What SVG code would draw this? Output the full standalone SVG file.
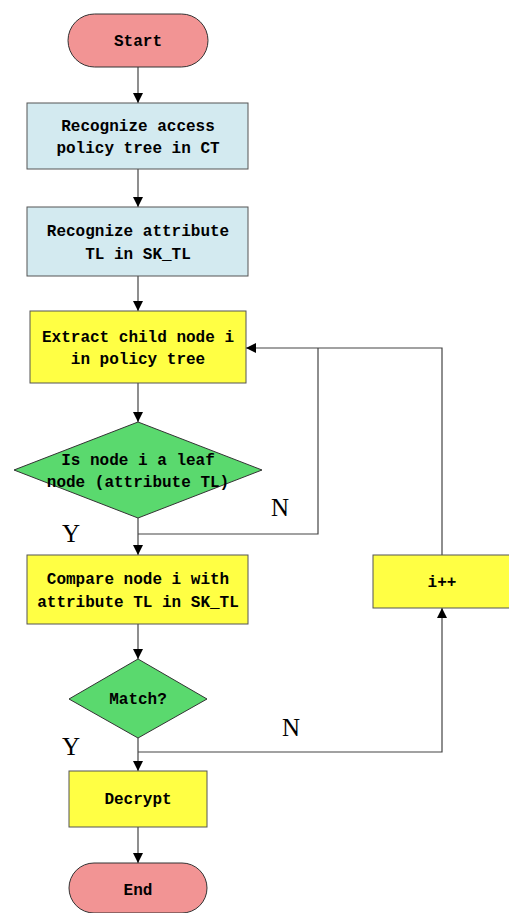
<svg xmlns="http://www.w3.org/2000/svg" width="509" height="913" viewBox="0 0 509 913">
  <style>
    .term { fill: #f29494; stroke: #333; stroke-width: 1; }
    .blue { fill: #d3eaf0; stroke: #555; stroke-width: 1; }
    .yel { fill: #ffff44; stroke: #555; stroke-width: 1; }
    .dec { fill: #5ad96e; stroke: #333; stroke-width: 1; }
    .t { font-family: "Liberation Mono", "DejaVu Sans Mono", monospace; font-size: 16px; font-weight: bold; fill: #000; text-anchor: middle; }
    .lbl { font-family: "Liberation Serif", "DejaVu Serif", serif; font-size: 25px; fill: #000; text-anchor: middle; }
    .ln { fill: none; stroke: #444; stroke-width: 1.2; }
  </style>
  <defs>
    <marker id="arr" markerWidth="10" markerHeight="10" refX="10" refY="5" orient="auto" markerUnits="userSpaceOnUse">
      <path d="M0,0 L10,5 L0,10 z" fill="#000"/>
    </marker>
  </defs>

  <g id="connectors">
    <line class="ln" x1="138" y1="67" x2="138" y2="103" marker-end="url(#arr)"/>
    <line class="ln" x1="138" y1="169" x2="138" y2="207" marker-end="url(#arr)"/>
    <line class="ln" x1="138" y1="276" x2="138" y2="311" marker-end="url(#arr)"/>
    <line class="ln" x1="138" y1="383" x2="138" y2="422" marker-end="url(#arr)"/>
    <line class="ln" x1="138" y1="518" x2="138" y2="555" marker-end="url(#arr)"/>
    <polyline class="ln" points="138,534 318,534 318,348"/>
    <polyline class="ln" points="442,555 442,348 246,348" marker-end="url(#arr)"/>
    <line class="ln" x1="138" y1="624" x2="138" y2="659" marker-end="url(#arr)"/>
    <line class="ln" x1="138" y1="738" x2="138" y2="771" marker-end="url(#arr)"/>
    <polyline class="ln" points="138,752 442,752 442,608" marker-end="url(#arr)"/>
    <line class="ln" x1="138" y1="827" x2="138" y2="863" marker-end="url(#arr)"/>
    <text class="lbl" x="280" y="516">N</text>
    <text class="lbl" x="71" y="542">Y</text>
    <text class="lbl" x="291" y="736">N</text>
    <text class="lbl" x="71" y="755">Y</text>
  </g>

  <g id="start">
    <rect class="term" x="68" y="14" width="140" height="53" rx="26.5"/>
    <text class="t" x="138" y="46">Start</text>
  </g>

  <g id="recognize-tree">
    <rect class="blue" x="27" y="103" width="221" height="66"/>
    <text class="t" x="138" y="131">Recognize access</text>
    <text class="t" x="138" y="153">policy tree in CT</text>
  </g>

  <g id="recognize-attr">
    <rect class="blue" x="27" y="207" width="221" height="69"/>
    <text class="t" x="138" y="236">Recognize attribute</text>
    <text class="t" x="138" y="259">TL in SK_TL</text>
  </g>

  <g id="extract">
    <rect class="yel" x="30" y="311" width="216" height="72"/>
    <text class="t" x="138" y="342">Extract child node i</text>
    <text class="t" x="138" y="364">in policy tree</text>
  </g>

  <g id="is-leaf">
    <polygon class="dec" points="138,422 262,470 138,518 14,470"/>
    <text class="t" x="138" y="465">Is node i a leaf</text>
    <text class="t" x="138" y="487">node (attribute TL)</text>
  </g>

  <g id="compare">
    <rect class="yel" x="27" y="555" width="221" height="69"/>
    <text class="t" x="138" y="584">Compare node i with</text>
    <text class="t" x="138" y="607">attribute TL in SK_TL</text>
  </g>

  <g id="increment">
    <rect class="yel" x="373" y="555" width="140" height="53"/>
    <text class="t" x="442" y="587">i++</text>
  </g>

  <g id="match">
    <polygon class="dec" points="138,659 207,699 138,738 69,699"/>
    <text class="t" x="138" y="704">Match?</text>
  </g>

  <g id="decrypt">
    <rect class="yel" x="69" y="771" width="138" height="56"/>
    <text class="t" x="138" y="804">Decrypt</text>
  </g>

  <g id="end">
    <rect class="term" x="69" y="863" width="138" height="50" rx="25"/>
    <text class="t" x="138" y="895">End</text>
  </g>
</svg>
